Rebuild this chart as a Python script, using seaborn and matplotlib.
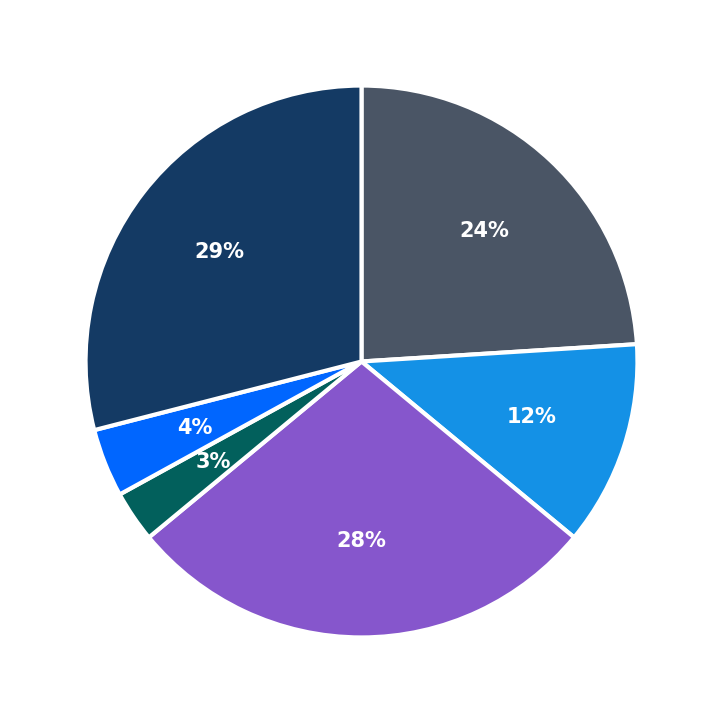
import matplotlib
matplotlib.use("Agg")
import matplotlib.pyplot as plt
import seaborn as sns

sns.set_theme(style="white")
plt.rcParams['font.family'] = ['DejaVu Sans']

values = [24, 12, 28, 3, 4, 29]
colors = ["#4a5565", "#1491e6", "#8656cc", "#02605c", "#0066ff", "#143a64"]

fig = plt.figure(figsize=(7.23, 7.23), dpi=100)
ax = fig.add_axes([0, 0, 1, 1])
wedges, texts, autotexts = ax.pie(
    values, colors=colors, startangle=90, counterclock=False,
    autopct=lambda p: f"{p:.0f}%", pctdistance=0.65,
    wedgeprops=dict(edgecolor="white", linewidth=3),
    textprops=dict(color="white", fontsize=15, fontweight="bold"))
ax.set_xlim(-1.31, 1.31)
ax.set_ylim(-1.31, 1.31)
ax.set_aspect("equal")
ax.axis("off")
fig.savefig("out.png", dpi=100)
